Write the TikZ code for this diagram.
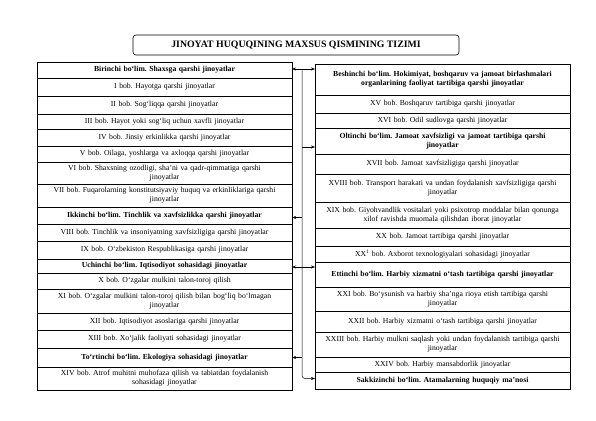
\documentclass[tikz,border=0pt]{standalone}
\usepackage{fontspec}
\setmainfont{Liberation Serif}
\usetikzlibrary{positioning,arrows.meta}
\frenchspacing

\begin{document}
\begin{tikzpicture}[
    x=1pt, y=-1pt,
    >={Stealth[length=4pt,width=3pt]},
    cell/.style={
        draw=black,
        line width=0.5pt,
        outer sep=0pt,
        minimum width=255pt,
        text width=253pt,
        align=center,
        inner sep=1pt,
        font=\fontsize{7.7}{8.8}\selectfont
    },
    part/.style={cell, font=\fontsize{7.7}{8.8}\selectfont\bfseries},
    heading/.style={
        draw=black,
        line width=0.6pt,
        rounded corners=3pt,
        minimum width=326pt,
        minimum height=20pt,
        font=\fontsize{9.8}{11}\selectfont\bfseries
    },
    link/.style={line width=0.5pt}
]
\useasboundingbox (0,0) rectangle (596,420);

% --- Title ---
\node[heading] (head) at (296,45) {JINOYAT HUQUQINING MAXSUS QISMINING TIZIMI};

% --- Left column ---
\node[part, anchor=north west, minimum height=16pt] (p1) at (37,62) {Birinchi bo‘lim. Shaxsga qarshi jinoyatlar};
\node[cell, below=0pt of p1, minimum height=18pt] (b1) {I bob. Hayotga qarshi jinoyatlar};
\node[cell, below=0pt of b1, minimum height=18pt] (b2) {II bob. Sog‘liqqa qarshi jinoyatlar};
\node[cell, below=0pt of b2, minimum height=15pt] (b3) {III bob. Hayot yoki sog‘liq uchun xavfli jinoyatlar};
\node[cell, below=0pt of b3, minimum height=17pt] (b4) {IV bob. Jinsiy erkinlikka qarshi jinoyatlar};
\node[cell, below=0pt of b4, minimum height=16pt] (b5) {V bob. Oilaga, yoshlarga va axloqqa qarshi jinoyatlar};
\node[cell, below=0pt of b5, minimum height=22pt] (b6) {VI bob. Shaxsning ozodligi, sha’ni va qadr-qimmatiga qarshi\\jinoyatlar};
\node[cell, below=0pt of b6, minimum height=23pt] (b7) {VII bob. Fuqarolarning konstitutsiyaviy huquq va erkinliklariga qarshi\\jinoyatlar};
\node[part, below=0pt of b7, minimum height=17pt] (p2) {Ikkinchi bo‘lim. Tinchlik va xavfsizlikka qarshi jinoyatlar};
\node[cell, below=0pt of p2, minimum height=17pt] (b8) {VIII bob. Tinchlik va insoniyatning xavfsizligiga qarshi jinoyatlar};
\node[cell, below=0pt of b8, minimum height=18pt] (b9) {IX bob. O‘zbekiston Respublikasiga qarshi jinoyatlar};
\node[part, below=0pt of b9, minimum height=14pt] (p3) {Uchinchi bo‘lim. Iqtisodiyot sohasidagi jinoyatlar};
\node[cell, below=0pt of p3, minimum height=16pt] (b10) {X bob. O‘zgalar mulkini talon-toroj qilish};
\node[cell, below=0pt of b10, minimum height=24pt] (b11) {XI bob. O‘zgalar mulkini talon-toroj qilish bilan bog‘liq bo‘lmagan\\jinoyatlar};
\node[cell, below=0pt of b11, minimum height=17pt] (b12) {XII bob. Iqtisodiyot asoslariga qarshi jinoyatlar};
\node[cell, below=0pt of b12, minimum height=18pt] (b13) {XIII bob. Xo‘jalik faoliyati sohasidagi jinoyatlar};
\node[part, below=0pt of b13, minimum height=19pt] (p4) {To‘rtinchi bo‘lim. Ekologiya sohasidagi jinoyatlar};
\node[cell, below=0pt of p4, minimum height=23pt] (b14) {XIV bob. Atrof muhitni muhofaza qilish va tabiatdan foydalanish\\sohasidagi jinoyatlar};

% --- Right column ---
\node[part, anchor=north west, minimum height=31pt] (p5) at (315,64) {Beshinchi bo‘lim. Hokimiyat, boshqaruv va jamoat birlashmalari\\organlarining faoliyat tartibiga qarshi jinoyatlar};
\node[cell, below=0pt of p5, minimum height=18pt] (b15) {XV bob. Boshqaruv tartibiga qarshi jinoyatlar};
\node[cell, below=0pt of b15, minimum height=15pt] (b16) {XVI bob. Odil sudlovga qarshi jinoyatlar};
\node[part, below=0pt of b16, minimum height=26pt] (p6) {Oltinchi bo‘lim. Jamoat xavfsizligi va jamoat tartibiga qarshi\\jinoyatlar};
\node[cell, below=0pt of p6, minimum height=20pt] (b17) {XVII bob. Jamoat xavfsizligiga qarshi jinoyatlar};
\node[cell, below=0pt of b17, minimum height=28pt] (b18) {XVIII bob. Transport harakati va undan foydalanish xavfsizligiga qarshi\\jinoyatlar};
\node[cell, below=0pt of b18, minimum height=26pt] (b19) {XIX bob. Giyohvandlik vositalari yoki psixotrop moddalar bilan qonunga\\xilof ravishda muomala qilishdan iborat jinoyatlar};
\node[cell, below=0pt of b19, minimum height=18pt] (b20) {XX bob. Jamoat tartibiga qarshi jinoyatlar};
\node[cell, below=0pt of b20, minimum height=16pt] (b20a) {XX\textsuperscript{1} bob. Axborot texnologiyalari sohasidagi jinoyatlar};
\node[part, below=0pt of b20a, minimum height=25pt] (p7) {Ettinchi bo‘lim. Harbiy xizmatni o‘tash tartibiga qarshi jinoyatlar};
\node[cell, below=0pt of p7, minimum height=24pt] (b21) {XXI bob. Bo‘ysunish va harbiy sha’nga rioya etish tartibiga qarshi\\jinoyatlar};
\node[cell, below=0pt of b21, minimum height=21pt] (b22) {XXII bob. Harbiy xizmatni o‘tash tartibiga qarshi jinoyatlar};
\node[cell, below=0pt of b22, minimum height=25pt] (b23) {XXIII bob. Harbiy mulkni saqlash yoki undan foydalanish tartibiga qarshi\\jinoyatlar};
\node[cell, below=0pt of b23, minimum height=15pt] (b24) {XXIV bob. Harbiy mansabdorlik jinoyatlar};
\node[part, below=0pt of b24, minimum height=17pt] (p8) {Sakkizinchi bo‘lim. Atamalarning huquqiy ma’nosi};

% --- Connectors ---
\coordinate (trunk) at ([xshift=10pt,yshift=1pt]p1.east);
\coordinate (olt)   at ([yshift=-6pt]p6.west);
\coordinate (ikk)   at ([yshift=-2pt]p2.east);
\coordinate (uch)   at ([yshift=-1pt]p3.east);
\coordinate (sak)   at ([yshift=2pt]p8.west);
\draw[link, <->] ([yshift=1pt]p1.east) -- (trunk -| p5.west);
\draw[link, ->, rounded corners=3pt] (trunk) |- (sak);
\draw[link, ->] (trunk |- olt) -- (olt);
\draw[link, ->] (trunk |- ikk) -- (ikk);
\draw[link, <->] (uch) -- (uch -| p7.west);
\draw[link, ->] (trunk |- p4.east) -- (p4.east);

\end{tikzpicture}
\end{document}
